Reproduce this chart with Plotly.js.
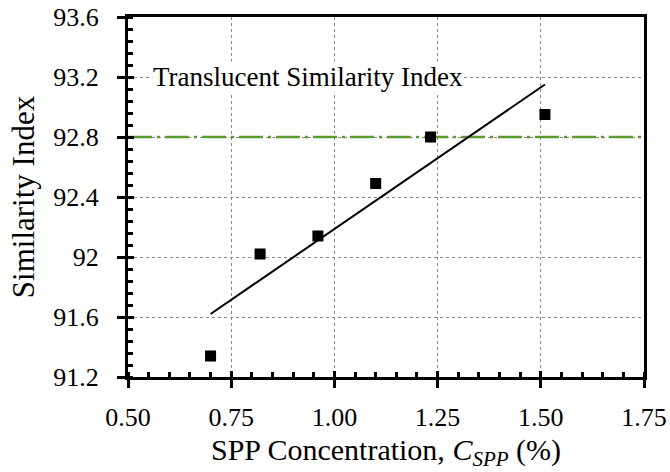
<!DOCTYPE html>
<html>
<head>
<meta charset="utf-8">
<script src="https://cdn.plot.ly/plotly-3.0.1.min.js"></script>
<style>
html,body{margin:0;padding:0;background:#fff;}
#chart{width:670px;height:472px;}
</style>
</head>
<body>
<div id="chart"></div>
<script>
// Data
const concentration = [0.70, 0.82, 0.96, 1.10, 1.233, 1.51];
const similarity = [91.34, 92.02, 92.14, 92.49, 92.80, 92.95];
const trendX = [0.70, 1.51];
const trendY = [91.62, 93.15];
const refX = [0.50, 1.75];
const refY = [92.80, 92.80];
const refLabel = "Translucent Similarity Index";
const xTickVals = [0.50, 0.75, 1.00, 1.25, 1.50, 1.75];
const xTickText = ["0.50", "0.75", "1.00", "1.25", "1.50", "1.75"];
const yTickVals = [91.2, 91.6, 92.0, 92.4, 92.8, 93.2, 93.6];
const yTickText = ["91.2", "91.6", "92", "92.4", "92.8", "93.2", "93.6"];

const FONT = "Liberation Serif";

const traces = [
  {x: refX, y: refY, mode: "lines", line: {color: "#5a9a2e", width: 2.5, dash: "24px,5px,3px,5px"}, hoverinfo: "skip"},
  {x: trendX, y: trendY, mode: "lines", line: {color: "#000", width: 2}},
  {x: concentration, y: similarity, mode: "markers", marker: {symbol: "square", size: 11, color: "#000"}},
  {x: refX, y: refY, xaxis: "x2", yaxis: "y2", mode: "lines", line: {width: 0}, opacity: 0, hoverinfo: "skip"}
];

const axisCommon = {
  showline: true, linecolor: "#000", linewidth: 3, mirror: true,
  zeroline: false, showgrid: true, gridcolor: "#8a8a8a", gridwidth: 1, griddash: "dot",
  ticks: "outside", ticklen: 8, tickwidth: 3, tickcolor: "#000",
  tickfont: {family: FONT, size: 26, color: "#000"}
};

const layout = {
  width: 670, height: 472,
  margin: {l: 128, r: 26, t: 17, b: 95},
  paper_bgcolor: "#fff", plot_bgcolor: "#fff",
  showlegend: false,
  font: {family: FONT, color: "#000"},
  xaxis: Object.assign({}, axisCommon, {
    range: [0.5, 1.75], tickmode: "array", tickvals: xTickVals, ticktext: xTickText,
    ticklabelstandoff: 7,
    minor: {dtick: 0.05, ticks: "inside", ticklen: 5, tickwidth: 3, tickcolor: "#000", showgrid: false},
    title: {text: "SPP Concentration, <i>C<sub>SPP</sub></i> (%)", font: {family: FONT, size: 30, color: "#000"}, standoff: 8}
  }),
  yaxis: Object.assign({}, axisCommon, {
    range: [91.2, 93.6], tickmode: "array", tickvals: yTickVals, ticktext: yTickText,
    ticklabelstandoff: 13,
    minor: {dtick: 0.08, tick0: 91.2, ticks: "inside", ticklen: 5, tickwidth: 3, tickcolor: "#000", showgrid: false},
    title: {text: "Similarity Index", font: {family: FONT, size: 31, color: "#000"}, standoff: 10}
  }),
  xaxis2: {overlaying: "x", anchor: "y2", range: [0.5, 1.75], tickmode: "array", tickvals: xTickVals,
    ticks: "inside", ticklen: 6, tickwidth: 3, tickcolor: "#000", showticklabels: false,
    showgrid: false, zeroline: false, showline: false, side: "bottom"},
  yaxis2: {overlaying: "y", anchor: "x2", range: [91.2, 93.6], tickmode: "array", tickvals: yTickVals,
    ticks: "inside", ticklen: 6, tickwidth: 3, tickcolor: "#000", showticklabels: false,
    showgrid: false, zeroline: false, showline: false, side: "left"},
  annotations: [{
    x: 0.557, y: 93.2, xref: "x", yref: "y", xanchor: "left", yanchor: "middle",
    text: refLabel, showarrow: false, bgcolor: "#fff", borderpad: 0,
    font: {family: FONT, size: 27, color: "#000"}
  }]
};

Plotly.newPlot("chart", traces, layout, {displayModeBar: false, staticPlot: true});
</script>
</body>
</html>
